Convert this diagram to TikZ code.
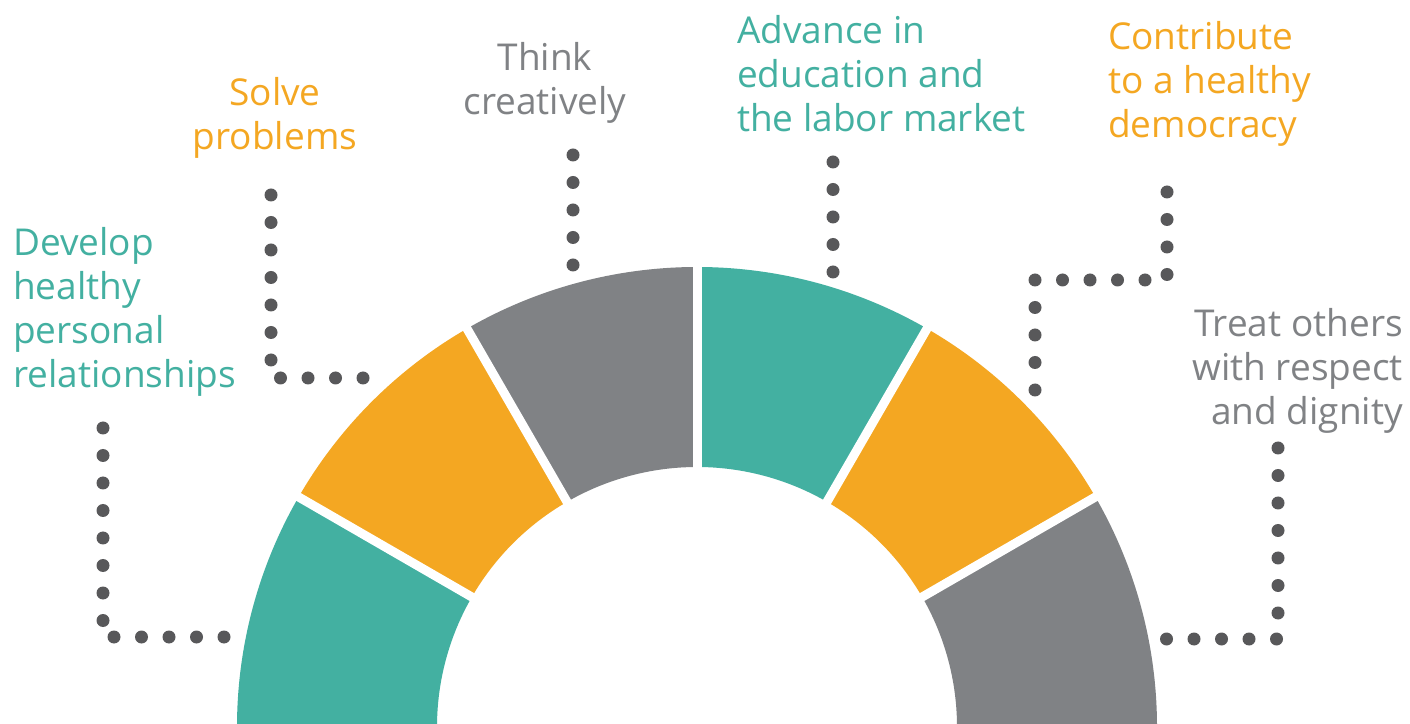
\documentclass[tikz,border=0pt]{standalone}
\usepackage{fontspec}
\setmainfont{Open Sans}
\usetikzlibrary{calc}
\definecolor{ringteal}{HTML}{43B0A1}
\definecolor{ringorange}{HTML}{F4A722}
\definecolor{ringgray}{HTML}{808285}
\definecolor{dotgray}{HTML}{58585A}
\def\ringpart[#1](#2:#3){\fill[#1] ($(697,-4)+(#2:460)$) arc (#2:#3:460) -- ($(697,-4)+(#3:260)$) arc (#3:#2:260) -- cycle;}
\tikzset{
  goal/.style={inner sep=0pt, font=\fontsize{37}{44}\selectfont},
  dotline/.style={dotgray, line width=13pt, line cap=round, dash pattern=on 0pt off 27.5pt}
}

\begin{document}
\begin{tikzpicture}[x=1pt,y=1pt]
			%%%%% START %%%%%
			\clip (0,0) rectangle (1410,723);
			\fill[white] (0,0) rectangle (1410,723);
			
			\ringpart[ringgray](0:30)
			\ringpart[ringorange](30:60)
			\ringpart[ringteal](60:90)
			\ringpart[ringgray](90:120)
			\ringpart[ringorange](120:150)
			\ringpart[ringteal](150:180)
			\foreach \a in {30,60,...,150}
				\draw[white, line width=9pt] ($(697,-4)+(\a:250)$) -- ($(697,-4)+(\a:470)$);
			
			\node[goal, ringteal, align=left, anchor=base west] (develop) at (13,335) {Develop\\healthy\\personal\\relationships};
			\node[goal, ringorange, align=center, anchor=base] (solve) at (275,573) {Solve\\problems};
			\node[goal, ringgray, align=center, anchor=base] (think) at (545,608) {Think\\creatively};
			\node[goal, ringteal, align=left, anchor=base west] (advance) at (737,591) {Advance in\\education and\\the labor market};
			\node[goal, ringorange, align=left, anchor=base west] (contribute) at (1108,585) {Contribute\\to a healthy\\democracy};
			\node[goal, ringgray, align=right, anchor=base east] (treat) at (1403,298) {Treat others\\with respect\\and dignity};
			
			\coordinate (develop top) at (103,295);
			\coordinate (develop end) at (226,86);
			\coordinate (solve top) at (271,528);
			\coordinate (solve end) at (364,345);
			\coordinate (think top) at (573,568);
			\coordinate (think end) at (573,457);
			\coordinate (advance top) at (833,561);
			\coordinate (advance end) at (833,450);
			\coordinate (contribute top) at (1167,531);
			\coordinate (contribute bend) at (1167,443);
			\coordinate (contribute end) at (1035,332);
			\coordinate (treat top) at (1278,275);
			\coordinate (treat end) at (1166,84);
			
			\draw[dotline] (develop top) |- (develop end);
			\draw[dotline] (solve top) |- (solve end);
			\draw[dotline] (think top) -- (think end);
			\draw[dotline] (advance top) -- (advance end);
			\draw[dotline] (contribute top) -- (contribute bend) -| (contribute end);
			\draw[dotline] (treat top) |- (treat end);
			%%%%% END %%%%%
\end{tikzpicture}
\end{document}
